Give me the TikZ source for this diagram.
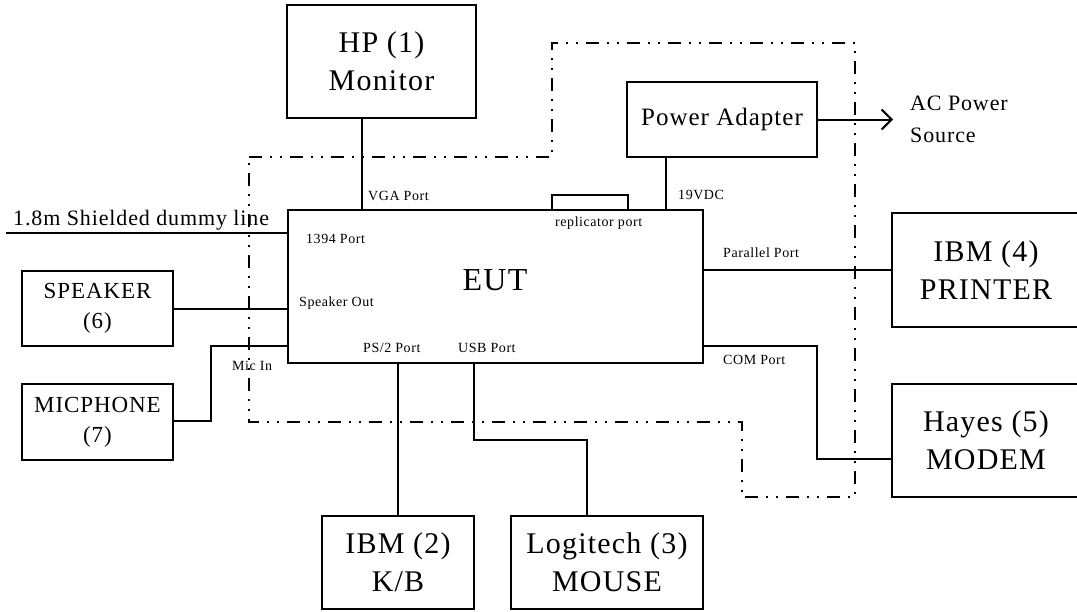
\documentclass[tikz,border=0pt]{standalone}
\usepackage{fontspec}
\setmainfont{Liberation Serif}[LetterSpace=4]
\usetikzlibrary{arrows.meta,positioning}

\begin{document}
\begin{tikzpicture}[
    x=1pt, y=-1pt,
    >={Straight Barb[length=10pt,width=20pt]},
    wire/.style={line width=2pt, black},
    shield/.style={line width=2pt, black,
                   dash pattern=on 13pt off 8pt on 2pt off 8pt on 2pt off 8pt},
    devbox/.style={draw, line width=2pt, align=center, inner sep=0pt,
                   font=\fontsize{30}{38}\selectfont},
    smallbox/.style={draw, line width=2pt, align=center, inner sep=0pt,
                   font=\fontsize{23}{30}\selectfont},
    port/.style={anchor=base west, inner sep=0pt,
                 font=\fontsize{14}{16}\selectfont},
]
\useasboundingbox (0,0) rectangle (1077,611);

% --- shielded enclosure (dash-dot outline) ---
\draw[shield] (249,157) -- (552,157) -- (552,43) -- (855,43) -- (855,497)
  -- (742,497) -- (742,422) -- (249,422) -- cycle;

% --- EUT and peripherals ---
\node[devbox, minimum width=415pt, minimum height=153pt] (eut) at (495.5,286.5) {};
\node[font=\fontsize{32}{36}\selectfont, inner sep=0pt] (eutlabel) at (495,280) {EUT};
\node[draw, line width=2pt, minimum width=76pt, minimum height=15pt,
      inner sep=0pt] (repl) at (590,202.5) {};

\node[devbox, minimum width=189pt, minimum height=113pt] (monitor) at (381.5,61.5)
  {HP (1)\\Monitor};
\node[devbox, font=\fontsize{25}{30}\selectfont,
      minimum width=190pt, minimum height=75pt] (power) at (722,119.5)
  {Power Adapter};
\node[devbox, minimum width=188pt, minimum height=114pt] (printer) at (986,270)
  {IBM (4)\\PRINTER};
\node[devbox, minimum width=188pt, minimum height=113pt] (modem) at (986,440.5)
  {Hayes (5)\\MODEM};
\node[smallbox, minimum width=151pt, minimum height=75pt] (speaker) at (97.5,308.5)
  {SPEAKER\\(6)};
\node[smallbox, minimum width=151pt, minimum height=76pt] (micphone) at (97.5,422)
  {MICPHONE\\(7)};
\node[devbox, minimum width=152pt, minimum height=93pt] (keyboard) at (398,562.5)
  {IBM (2)\\K/B};
\node[devbox, minimum width=192pt, minimum height=93pt] (mouse) at (607,562.5)
  {Logitech (3)\\MOUSE};

\node[font=\fontsize{22}{32}\selectfont, align=left, anchor=north west,
      inner sep=0pt] (acsrc) at (910,95.5) {AC Power\\Source};

% --- port points ---
\coordinate (vga) at (362,210);
\coordinate (dcin) at (666,210);
\coordinate (acpt) at (893,119.5);
\coordinate (dummyend) at (6,233);
\coordinate (micin) at (287,346);
\coordinate (usb) at (474,363);
\coordinate (com) at (703,346);

% --- cables ---
\draw[wire] (vga) -- (vga |- monitor.south);
\draw[wire] (dcin) -- (dcin |- power.south);
\draw[wire,->] (power.east) -- (acpt);
\draw[wire] (dummyend) -- (dummyend -| eut.west);
\draw[wire] (speaker.east) -- (speaker.east -| eut.west);
\draw[wire] (micin) -- ++(-76,0) |- ([yshift=1pt]micphone.east);
\draw[wire] (keyboard.north) -- (keyboard.north |- eut.south);
\draw[wire] (usb) -- ++(0,77) -| ([xshift=-20pt]mouse.north);
\draw[wire] (printer.west) -- (printer.west -| eut.east);
\draw[wire] (com) -- ++(114,0) |- ([yshift=-18.5pt]modem.west);

% --- port labels ---
\node[font=\fontsize{22}{26}\selectfont, anchor=base west, inner sep=0pt]
  (dummylbl) at (13,225) {1.8m Shielded dummy line};
\node[port] (vgalbl) at (368,200) {VGA Port};
\node[port] (dclbl) at (678,199) {19VDC};
\node[port] (repllbl) at (555,226) {replicator port};
\node[port] (p1394) at (306,243) {1394 Port};
\node[port] (spklbl) at (299,306) {Speaker Out};
\node[port] (ps2lbl) at (363,352) {PS/2 Port};
\node[port] (usblbl) at (458,352) {USB Port};
\node[port] (parlbl) at (723,257) {Parallel Port};
\node[port] (comlbl) at (723,364) {COM Port};
\node[port] (miclbl) at (232,370) {Mic In};
\end{tikzpicture}
\end{document}
